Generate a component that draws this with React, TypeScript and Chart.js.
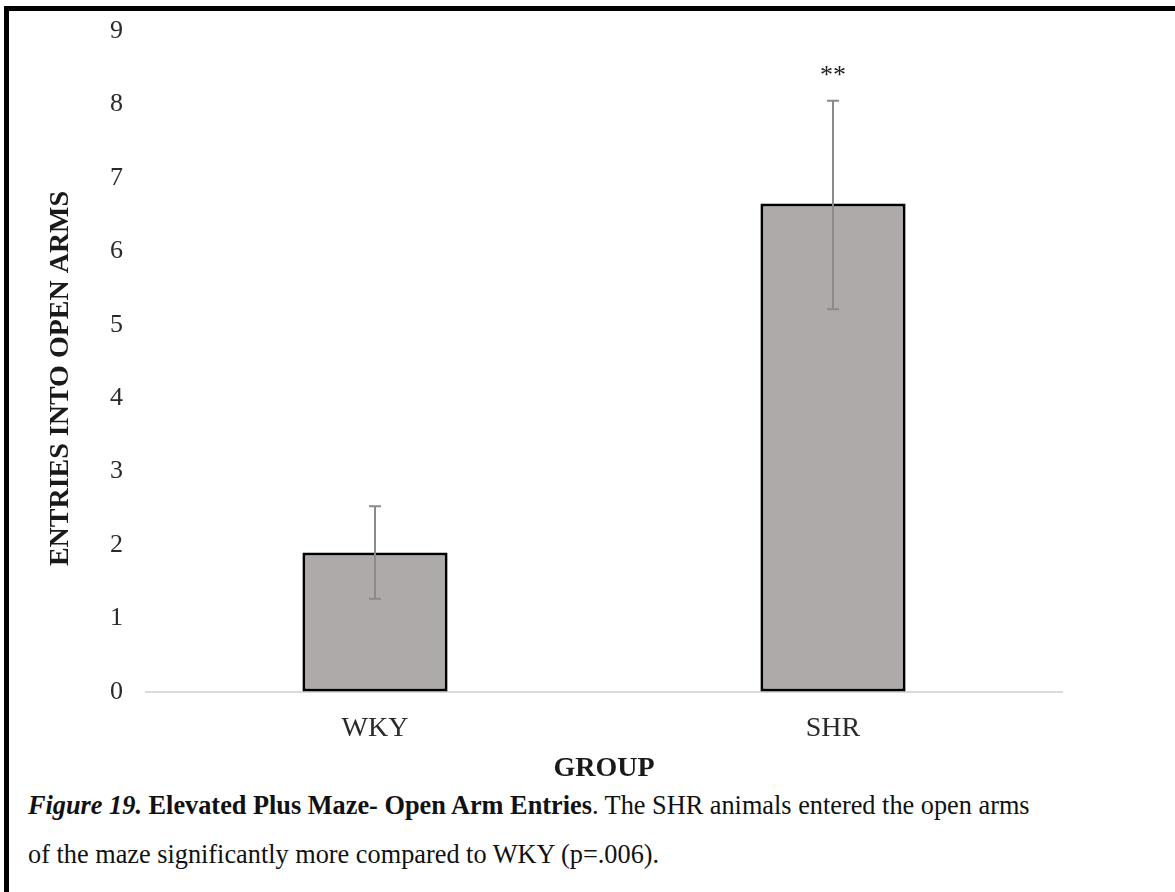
import React, { useEffect, useRef } from 'react';
import { Chart, registerables } from 'chart.js';

Chart.register(...registerables);

const categories = ['WKY', 'SHR'];
const means = [1.9, 6.65];
const errLow = [1.27, 5.21];
const errHigh = [2.53, 8.05];
const significance = ['', '**'];
const yMin = 0;
const yMax = 9;
const yStep = 1;

const yTitle = 'ENTRIES INTO OPEN ARMS';
const xTitle = 'GROUP';

const SERIF = '"Liberation Serif", "Times New Roman", serif';

const errorBarPlugin = {
  id: 'errorBars',
  afterDatasetsDraw(chart: any) {
    const { ctx, scales } = chart;
    const meta = chart.getDatasetMeta(0);
    ctx.save();
    meta.data.forEach((bar: any, i: number) => {
      const x = bar.x;
      const yHi = scales.y.getPixelForValue(errHigh[i]);
      const yLo = scales.y.getPixelForValue(errLow[i]);
      ctx.strokeStyle = '#8a8a8a';
      ctx.lineWidth = 2;
      ctx.beginPath();
      ctx.moveTo(x, yHi);
      ctx.lineTo(x, yLo);
      ctx.moveTo(x - 6, yHi);
      ctx.lineTo(x + 6, yHi);
      ctx.moveTo(x - 6, yLo);
      ctx.lineTo(x + 6, yLo);
      ctx.stroke();
      if (significance[i]) {
        ctx.fillStyle = '#222';
        ctx.font = `26px ${SERIF}`;
        ctx.textAlign = 'center';
        ctx.textBaseline = 'middle';
        ctx.fillText(significance[i], x, yHi - 25);
      }
    });
    ctx.restore();
  },
};

const yTitlePlugin = {
  id: 'yTitle',
  afterDraw(chart: any) {
    const { ctx, chartArea } = chart;
    ctx.save();
    ctx.translate(61, (chartArea.top + chartArea.bottom) / 2 + 17);
    ctx.rotate(-Math.PI / 2);
    ctx.fillStyle = '#1a1a1a';
    ctx.font = `bold 28px ${SERIF}`;
    ctx.textAlign = 'center';
    ctx.textBaseline = 'middle';
    ctx.fillText(yTitle, 0, 0);
    ctx.restore();
  },
};

export default function App() {
  const ref = useRef<HTMLCanvasElement | null>(null);
  useEffect(() => {
    document.body.style.overflow = 'hidden';
    const canvas = ref.current;
    if (!canvas) return;
    const chart = new Chart(canvas, {
      type: 'bar',
      data: {
        labels: categories,
        datasets: [
          {
            data: means,
            backgroundColor: '#aeaaaa',
            borderColor: '#000000',
            borderWidth: 3,
            borderSkipped: false,
            barPercentage: 0.317,
            categoryPercentage: 1,
          },
        ],
      },
      options: {
        animation: false,
        responsive: false,
        maintainAspectRatio: false,
        layout: { padding: { left: 0, right: 113, top: 31, bottom: 0 } },
        plugins: { legend: { display: false }, tooltip: { enabled: false }, title: { display: false } },
        scales: {
          x: {
            grid: { display: false, drawTicks: false },
            border: { display: true, color: '#d9d9d9', width: 2 },
            ticks: { color: '#2a2a2a', padding: 20, font: { family: SERIF, size: 28 } },
            title: {
              display: true,
              text: xTitle,
              color: '#1a1a1a',
              font: { family: SERIF, size: 28, weight: 'bold' },
              padding: { top: 0, bottom: 4 },
            },
            afterFit(scale: any) {
              scale.height = 98;
            },
          },
          y: {
            min: yMin,
            max: yMax,
            grid: {
              display: true,
              drawOnChartArea: false,
              drawTicks: true,
              tickLength: 15,
              color: 'rgba(0,0,0,0)',
            },
            border: { display: false },
            ticks: { stepSize: yStep, color: '#2a2a2a', padding: 8, font: { family: SERIF, size: 26 } },
            title: { display: false },
            afterFit(scale: any) {
              scale.width = 146;
            },
          },
        },
      },
      plugins: [errorBarPlugin, yTitlePlugin],
    });
    return () => chart.destroy();
  }, []);

  const captionStyle: React.CSSProperties = {
    position: 'absolute',
    left: 28,
    fontFamily: SERIF,
    fontSize: 26.3,
    color: '#111',
    whiteSpace: 'nowrap',
    lineHeight: '30px',
  };

  return (
    <div style={{ position: 'absolute', left: 0, top: 0, width: 1175, height: 892, overflow: 'hidden', background: '#fff' }}>
      <div
        style={{
          position: 'absolute',
          left: 4,
          top: 6,
          width: 1171,
          height: 886,
          borderTop: '5px solid #000',
          borderLeft: '5px solid #000',
          boxSizing: 'border-box',
        }}
      />
      <canvas ref={ref} width={1175} height={790} style={{ position: 'absolute', left: 0, top: 0, width: 1175, height: 790 }} />
      <div style={{ ...captionStyle, top: 791 }}>
        <b><i>Figure 19.</i> Elevated Plus Maze- Open Arm Entries</b>. The SHR animals entered the open arms
      </div>
      <div style={{ ...captionStyle, top: 840 }}>
        of the maze significantly more compared to WKY (p=.006).
      </div>
    </div>
  );
}
